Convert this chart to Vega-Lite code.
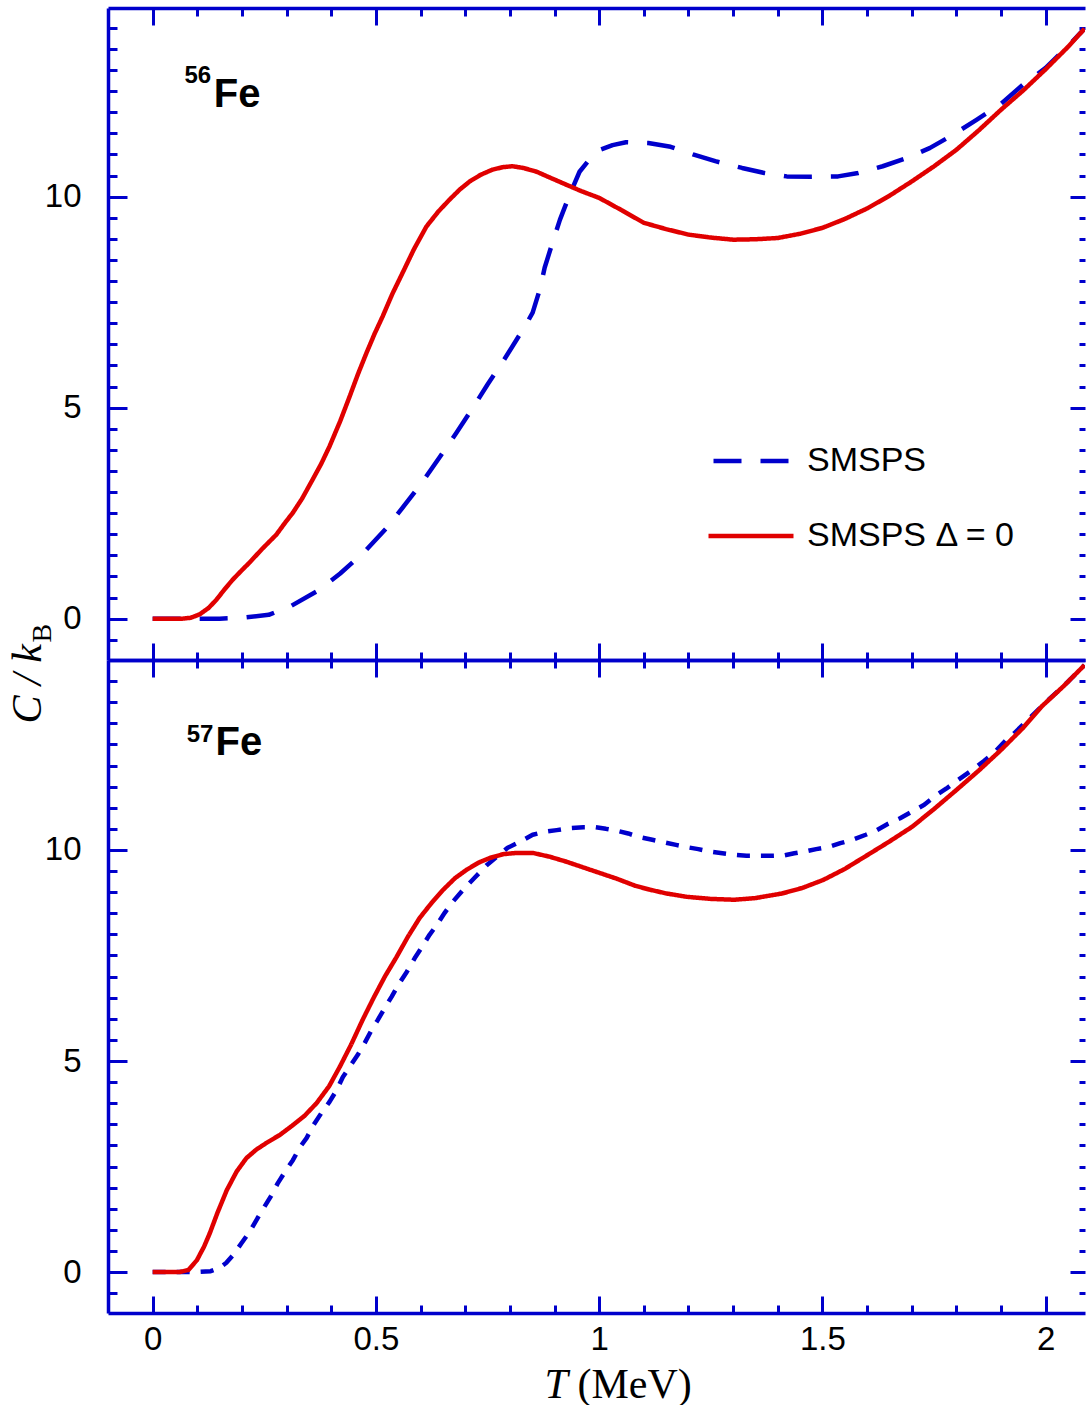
{
  "$schema": "https://vega.github.io/schema/vega-lite/v6.json",
  "padding": {"left": 6, "top": 6, "right": 0, "bottom": 0},
  "background": "white",
  "spacing": 0,
  "bounds": "flush",
  "config": {
    "view": {"stroke": null},
    "axis": {"grid": false, "domainColor": "#0000cc", "domainWidth": 3.5, "tickColor": "#0000cc", "tickWidth": 3, "labelFont": "Liberation Sans", "labelFontSize": 33, "labelColor": "#000000", "titleColor": "#000000", "titleFontWeight": "normal", "labelOverlap": false, "labelFlush": false, "labelBound": false}
  },
  "datasets": {
    "fe56": [
      {"T":0,"C":0,"series":"SMSPS"},{"T":0.1,"C":0,"series":"SMSPS"},{"T":0.15,"C":0,"series":"SMSPS"},{"T":0.2,"C":0.02,"series":"SMSPS"},{"T":0.26,"C":0.09,"series":"SMSPS"},{"T":0.31,"C":0.3,"series":"SMSPS"},{"T":0.37,"C":0.66,"series":"SMSPS"},{"T":0.42,"C":1.07,"series":"SMSPS"},{"T":0.475,"C":1.59,"series":"SMSPS"},{"T":0.525,"C":2.16,"series":"SMSPS"},{"T":0.565,"C":2.7,"series":"SMSPS"},{"T":0.605,"C":3.25,"series":"SMSPS"},{"T":0.645,"C":3.86,"series":"SMSPS"},{"T":0.68,"C":4.4,"series":"SMSPS"},{"T":0.715,"C":4.96,"series":"SMSPS"},{"T":0.75,"C":5.55,"series":"SMSPS"},{"T":0.785,"C":6.1,"series":"SMSPS"},{"T":0.815,"C":6.61,"series":"SMSPS"},{"T":0.835,"C":6.95,"series":"SMSPS"},{"T":0.851,"C":7.25,"series":"SMSPS"},{"T":0.867,"C":7.8,"series":"SMSPS"},{"T":0.878,"C":8.32,"series":"SMSPS"},{"T":0.894,"C":8.86,"series":"SMSPS"},{"T":0.912,"C":9.45,"series":"SMSPS"},{"T":0.934,"C":10.05,"series":"SMSPS"},{"T":0.956,"C":10.59,"series":"SMSPS"},{"T":0.978,"C":10.88,"series":"SMSPS"},{"T":1.0,"C":11.1,"series":"SMSPS"},{"T":1.03,"C":11.22,"series":"SMSPS"},{"T":1.06,"C":11.29,"series":"SMSPS"},{"T":1.11,"C":11.27,"series":"SMSPS"},{"T":1.16,"C":11.18,"series":"SMSPS"},{"T":1.21,"C":11.0,"series":"SMSPS"},{"T":1.26,"C":10.84,"series":"SMSPS"},{"T":1.32,"C":10.68,"series":"SMSPS"},{"T":1.37,"C":10.56,"series":"SMSPS"},{"T":1.42,"C":10.48,"series":"SMSPS"},{"T":1.475,"C":10.47,"series":"SMSPS"},{"T":1.535,"C":10.48,"series":"SMSPS"},{"T":1.58,"C":10.56,"series":"SMSPS"},{"T":1.635,"C":10.72,"series":"SMSPS"},{"T":1.69,"C":10.92,"series":"SMSPS"},{"T":1.74,"C":11.15,"series":"SMSPS"},{"T":1.79,"C":11.45,"series":"SMSPS"},{"T":1.845,"C":11.82,"series":"SMSPS"},{"T":1.9,"C":12.2,"series":"SMSPS"},{"T":1.95,"C":12.66,"series":"SMSPS"},{"T":2.0,"C":13.05,"series":"SMSPS"},{"T":2.05,"C":13.57,"series":"SMSPS"},{"T":2.087,"C":13.98,"series":"SMSPS"},
      {"T":0,"C":0,"series":"SMSPS Δ = 0"},{"T":0.067,"C":0,"series":"SMSPS Δ = 0"},{"T":0.085,"C":0.02,"series":"SMSPS Δ = 0"},{"T":0.105,"C":0.1,"series":"SMSPS Δ = 0"},{"T":0.125,"C":0.25,"series":"SMSPS Δ = 0"},{"T":0.143,"C":0.45,"series":"SMSPS Δ = 0"},{"T":0.16,"C":0.68,"series":"SMSPS Δ = 0"},{"T":0.179,"C":0.92,"series":"SMSPS Δ = 0"},{"T":0.2,"C":1.15,"series":"SMSPS Δ = 0"},{"T":0.217,"C":1.33,"series":"SMSPS Δ = 0"},{"T":0.245,"C":1.65,"series":"SMSPS Δ = 0"},{"T":0.277,"C":1.99,"series":"SMSPS Δ = 0"},{"T":0.295,"C":2.25,"series":"SMSPS Δ = 0"},{"T":0.314,"C":2.51,"series":"SMSPS Δ = 0"},{"T":0.335,"C":2.85,"series":"SMSPS Δ = 0"},{"T":0.358,"C":3.29,"series":"SMSPS Δ = 0"},{"T":0.378,"C":3.68,"series":"SMSPS Δ = 0"},{"T":0.396,"C":4.08,"series":"SMSPS Δ = 0"},{"T":0.42,"C":4.68,"series":"SMSPS Δ = 0"},{"T":0.441,"C":5.26,"series":"SMSPS Δ = 0"},{"T":0.46,"C":5.8,"series":"SMSPS Δ = 0"},{"T":0.479,"C":6.3,"series":"SMSPS Δ = 0"},{"T":0.497,"C":6.75,"series":"SMSPS Δ = 0"},{"T":0.515,"C":7.16,"series":"SMSPS Δ = 0"},{"T":0.537,"C":7.7,"series":"SMSPS Δ = 0"},{"T":0.56,"C":8.2,"series":"SMSPS Δ = 0"},{"T":0.585,"C":8.75,"series":"SMSPS Δ = 0"},{"T":0.613,"C":9.29,"series":"SMSPS Δ = 0"},{"T":0.64,"C":9.65,"series":"SMSPS Δ = 0"},{"T":0.665,"C":9.93,"series":"SMSPS Δ = 0"},{"T":0.688,"C":10.17,"series":"SMSPS Δ = 0"},{"T":0.71,"C":10.36,"series":"SMSPS Δ = 0"},{"T":0.735,"C":10.52,"series":"SMSPS Δ = 0"},{"T":0.761,"C":10.64,"series":"SMSPS Δ = 0"},{"T":0.785,"C":10.7,"series":"SMSPS Δ = 0"},{"T":0.806,"C":10.72,"series":"SMSPS Δ = 0"},{"T":0.83,"C":10.68,"series":"SMSPS Δ = 0"},{"T":0.86,"C":10.59,"series":"SMSPS Δ = 0"},{"T":0.89,"C":10.45,"series":"SMSPS Δ = 0"},{"T":0.927,"C":10.28,"series":"SMSPS Δ = 0"},{"T":0.96,"C":10.13,"series":"SMSPS Δ = 0"},{"T":1.0,"C":9.97,"series":"SMSPS Δ = 0"},{"T":1.05,"C":9.68,"series":"SMSPS Δ = 0"},{"T":1.1,"C":9.38,"series":"SMSPS Δ = 0"},{"T":1.15,"C":9.23,"series":"SMSPS Δ = 0"},{"T":1.2,"C":9.1,"series":"SMSPS Δ = 0"},{"T":1.25,"C":9.03,"series":"SMSPS Δ = 0"},{"T":1.3,"C":8.98,"series":"SMSPS Δ = 0"},{"T":1.35,"C":8.99,"series":"SMSPS Δ = 0"},{"T":1.4,"C":9.02,"series":"SMSPS Δ = 0"},{"T":1.45,"C":9.12,"series":"SMSPS Δ = 0"},{"T":1.5,"C":9.26,"series":"SMSPS Δ = 0"},{"T":1.55,"C":9.47,"series":"SMSPS Δ = 0"},{"T":1.6,"C":9.72,"series":"SMSPS Δ = 0"},{"T":1.65,"C":10.02,"series":"SMSPS Δ = 0"},{"T":1.7,"C":10.36,"series":"SMSPS Δ = 0"},{"T":1.75,"C":10.72,"series":"SMSPS Δ = 0"},{"T":1.8,"C":11.11,"series":"SMSPS Δ = 0"},{"T":1.85,"C":11.57,"series":"SMSPS Δ = 0"},{"T":1.9,"C":12.06,"series":"SMSPS Δ = 0"},{"T":1.95,"C":12.52,"series":"SMSPS Δ = 0"},{"T":2.0,"C":13.02,"series":"SMSPS Δ = 0"},{"T":2.05,"C":13.55,"series":"SMSPS Δ = 0"},{"T":2.087,"C":13.98,"series":"SMSPS Δ = 0"}
    ],
    "fe57": [
      {"T":0,"C":0,"series":"SMSPS"},{"T":0.1,"C":0,"series":"SMSPS"},{"T":0.13,"C":0.02,"series":"SMSPS"},{"T":0.15,"C":0.1,"series":"SMSPS"},{"T":0.165,"C":0.22,"series":"SMSPS"},{"T":0.18,"C":0.4,"series":"SMSPS"},{"T":0.2,"C":0.7,"series":"SMSPS"},{"T":0.217,"C":0.95,"series":"SMSPS"},{"T":0.235,"C":1.28,"series":"SMSPS"},{"T":0.25,"C":1.54,"series":"SMSPS"},{"T":0.265,"C":1.8,"series":"SMSPS"},{"T":0.28,"C":2.1,"series":"SMSPS"},{"T":0.296,"C":2.37,"series":"SMSPS"},{"T":0.314,"C":2.65,"series":"SMSPS"},{"T":0.33,"C":2.96,"series":"SMSPS"},{"T":0.345,"C":3.18,"series":"SMSPS"},{"T":0.36,"C":3.48,"series":"SMSPS"},{"T":0.378,"C":3.77,"series":"SMSPS"},{"T":0.396,"C":4.03,"series":"SMSPS"},{"T":0.412,"C":4.31,"series":"SMSPS"},{"T":0.426,"C":4.62,"series":"SMSPS"},{"T":0.441,"C":4.86,"series":"SMSPS"},{"T":0.459,"C":5.14,"series":"SMSPS"},{"T":0.475,"C":5.43,"series":"SMSPS"},{"T":0.49,"C":5.73,"series":"SMSPS"},{"T":0.504,"C":5.97,"series":"SMSPS"},{"T":0.52,"C":6.26,"series":"SMSPS"},{"T":0.535,"C":6.52,"series":"SMSPS"},{"T":0.553,"C":6.85,"series":"SMSPS"},{"T":0.569,"C":7.11,"series":"SMSPS"},{"T":0.587,"C":7.44,"series":"SMSPS"},{"T":0.602,"C":7.68,"series":"SMSPS"},{"T":0.62,"C":7.99,"series":"SMSPS"},{"T":0.636,"C":8.22,"series":"SMSPS"},{"T":0.654,"C":8.51,"series":"SMSPS"},{"T":0.672,"C":8.77,"series":"SMSPS"},{"T":0.699,"C":9.1,"series":"SMSPS"},{"T":0.721,"C":9.34,"series":"SMSPS"},{"T":0.748,"C":9.64,"series":"SMSPS"},{"T":0.77,"C":9.83,"series":"SMSPS"},{"T":0.795,"C":10.05,"series":"SMSPS"},{"T":0.822,"C":10.19,"series":"SMSPS"},{"T":0.851,"C":10.36,"series":"SMSPS"},{"T":0.878,"C":10.43,"series":"SMSPS"},{"T":0.905,"C":10.47,"series":"SMSPS"},{"T":0.935,"C":10.52,"series":"SMSPS"},{"T":0.965,"C":10.54,"series":"SMSPS"},{"T":0.99,"C":10.54,"series":"SMSPS"},{"T":1.015,"C":10.5,"series":"SMSPS"},{"T":1.042,"C":10.45,"series":"SMSPS"},{"T":1.065,"C":10.39,"series":"SMSPS"},{"T":1.088,"C":10.31,"series":"SMSPS"},{"T":1.119,"C":10.24,"series":"SMSPS"},{"T":1.146,"C":10.18,"series":"SMSPS"},{"T":1.172,"C":10.12,"series":"SMSPS"},{"T":1.2,"C":10.06,"series":"SMSPS"},{"T":1.222,"C":10.02,"series":"SMSPS"},{"T":1.249,"C":9.96,"series":"SMSPS"},{"T":1.276,"C":9.92,"series":"SMSPS"},{"T":1.306,"C":9.88,"series":"SMSPS"},{"T":1.33,"C":9.86,"series":"SMSPS"},{"T":1.38,"C":9.86,"series":"SMSPS"},{"T":1.414,"C":9.87,"series":"SMSPS"},{"T":1.437,"C":9.92,"series":"SMSPS"},{"T":1.46,"C":9.96,"series":"SMSPS"},{"T":1.486,"C":10.02,"series":"SMSPS"},{"T":1.517,"C":10.08,"series":"SMSPS"},{"T":1.54,"C":10.16,"series":"SMSPS"},{"T":1.567,"C":10.24,"series":"SMSPS"},{"T":1.597,"C":10.36,"series":"SMSPS"},{"T":1.62,"C":10.46,"series":"SMSPS"},{"T":1.647,"C":10.62,"series":"SMSPS"},{"T":1.674,"C":10.75,"series":"SMSPS"},{"T":1.701,"C":10.91,"series":"SMSPS"},{"T":1.728,"C":11.07,"series":"SMSPS"},{"T":1.754,"C":11.29,"series":"SMSPS"},{"T":1.777,"C":11.45,"series":"SMSPS"},{"T":1.804,"C":11.66,"series":"SMSPS"},{"T":1.831,"C":11.86,"series":"SMSPS"},{"T":1.861,"C":12.1,"series":"SMSPS"},{"T":1.884,"C":12.3,"series":"SMSPS"},{"T":1.911,"C":12.6,"series":"SMSPS"},{"T":1.93,"C":12.77,"series":"SMSPS"},{"T":1.96,"C":13.08,"series":"SMSPS"},{"T":2.0,"C":13.5,"series":"SMSPS"},{"T":2.04,"C":13.88,"series":"SMSPS"},{"T":2.087,"C":14.38,"series":"SMSPS"},
      {"T":0,"C":0,"series":"SMSPS Δ = 0"},{"T":0.06,"C":0,"series":"SMSPS Δ = 0"},{"T":0.08,"C":0.05,"series":"SMSPS Δ = 0"},{"T":0.099,"C":0.28,"series":"SMSPS Δ = 0"},{"T":0.115,"C":0.6,"series":"SMSPS Δ = 0"},{"T":0.128,"C":0.92,"series":"SMSPS Δ = 0"},{"T":0.145,"C":1.4,"series":"SMSPS Δ = 0"},{"T":0.166,"C":1.94,"series":"SMSPS Δ = 0"},{"T":0.188,"C":2.38,"series":"SMSPS Δ = 0"},{"T":0.21,"C":2.7,"series":"SMSPS Δ = 0"},{"T":0.232,"C":2.9,"series":"SMSPS Δ = 0"},{"T":0.255,"C":3.06,"series":"SMSPS Δ = 0"},{"T":0.285,"C":3.25,"series":"SMSPS Δ = 0"},{"T":0.314,"C":3.48,"series":"SMSPS Δ = 0"},{"T":0.34,"C":3.7,"series":"SMSPS Δ = 0"},{"T":0.367,"C":4.0,"series":"SMSPS Δ = 0"},{"T":0.395,"C":4.4,"series":"SMSPS Δ = 0"},{"T":0.419,"C":4.86,"series":"SMSPS Δ = 0"},{"T":0.445,"C":5.4,"series":"SMSPS Δ = 0"},{"T":0.47,"C":5.97,"series":"SMSPS Δ = 0"},{"T":0.495,"C":6.5,"series":"SMSPS Δ = 0"},{"T":0.52,"C":7.0,"series":"SMSPS Δ = 0"},{"T":0.546,"C":7.46,"series":"SMSPS Δ = 0"},{"T":0.572,"C":7.95,"series":"SMSPS Δ = 0"},{"T":0.598,"C":8.39,"series":"SMSPS Δ = 0"},{"T":0.625,"C":8.75,"series":"SMSPS Δ = 0"},{"T":0.65,"C":9.05,"series":"SMSPS Δ = 0"},{"T":0.677,"C":9.33,"series":"SMSPS Δ = 0"},{"T":0.703,"C":9.53,"series":"SMSPS Δ = 0"},{"T":0.73,"C":9.7,"series":"SMSPS Δ = 0"},{"T":0.755,"C":9.81,"series":"SMSPS Δ = 0"},{"T":0.785,"C":9.9,"series":"SMSPS Δ = 0"},{"T":0.815,"C":9.93,"series":"SMSPS Δ = 0"},{"T":0.851,"C":9.93,"series":"SMSPS Δ = 0"},{"T":0.889,"C":9.84,"series":"SMSPS Δ = 0"},{"T":0.927,"C":9.72,"series":"SMSPS Δ = 0"},{"T":0.98,"C":9.53,"series":"SMSPS Δ = 0"},{"T":1.039,"C":9.32,"series":"SMSPS Δ = 0"},{"T":1.081,"C":9.15,"series":"SMSPS Δ = 0"},{"T":1.113,"C":9.06,"series":"SMSPS Δ = 0"},{"T":1.15,"C":8.97,"series":"SMSPS Δ = 0"},{"T":1.196,"C":8.89,"series":"SMSPS Δ = 0"},{"T":1.25,"C":8.84,"series":"SMSPS Δ = 0"},{"T":1.303,"C":8.82,"series":"SMSPS Δ = 0"},{"T":1.35,"C":8.86,"series":"SMSPS Δ = 0"},{"T":1.41,"C":8.97,"series":"SMSPS Δ = 0"},{"T":1.455,"C":9.1,"series":"SMSPS Δ = 0"},{"T":1.502,"C":9.29,"series":"SMSPS Δ = 0"},{"T":1.55,"C":9.55,"series":"SMSPS Δ = 0"},{"T":1.601,"C":9.88,"series":"SMSPS Δ = 0"},{"T":1.65,"C":10.2,"series":"SMSPS Δ = 0"},{"T":1.701,"C":10.55,"series":"SMSPS Δ = 0"},{"T":1.75,"C":10.97,"series":"SMSPS Δ = 0"},{"T":1.8,"C":11.42,"series":"SMSPS Δ = 0"},{"T":1.85,"C":11.88,"series":"SMSPS Δ = 0"},{"T":1.9,"C":12.37,"series":"SMSPS Δ = 0"},{"T":1.95,"C":12.9,"series":"SMSPS Δ = 0"},{"T":1.991,"C":13.4,"series":"SMSPS Δ = 0"},{"T":2.04,"C":13.88,"series":"SMSPS Δ = 0"},{"T":2.087,"C":14.38,"series":"SMSPS Δ = 0"}
    ]
  },
  "resolve": {"scale": {"color": "independent", "strokeDash": "independent"}, "legend": {"color": "independent", "strokeDash": "independent"}},
  "vconcat": [
    {
      "width": 977,
      "height": 652,
      "resolve": {"axis": {"x": "independent", "y": "independent"}},
      "layer": [
        {
          "data": {"name": "fe56"},
          "mark": {"type": "line", "strokeWidth": 4.5, "clip": true, "strokeCap": "butt", "strokeJoin": "round"},
          "encoding": {
            "x": {"field": "T", "type": "quantitative", "scale": {"domain": [-0.1, 2.088], "nice": false, "zero": false},
              "axis": {"orient": "bottom", "values": [0,0.1,0.2,0.3,0.4,0.5,0.6,0.7,0.8,0.9,1,1.1,1.2,1.3,1.4,1.5,1.6,1.7,1.8,1.9,2], "tickSize": {"condition": {"test": "abs(datum.value*2-round(datum.value*2))<0.001", "value": -17}, "value": -8}, "labels": false, "title": null}},
            "y": {"field": "C", "type": "quantitative", "scale": {"domain": [-0.98, 14.47], "nice": false, "zero": false},
              "axis": {"orient": "left", "values": [-0.5,0,0.5,1,1.5,2,2.5,3,3.5,4,4.5,5,5.5,6,6.5,7,7.5,8,8.5,9,9.5,10,10.5,11,11.5,12,12.5,13,13.5,14], "tickSize": {"condition": {"test": "datum.value % 5 === 0", "value": -19}, "value": -9}, "labelExpr": "datum.value % 5 === 0 ? format(datum.value, '~g') : ''", "labelPadding": 46, "labelAlign": "right", "labelBaseline": "middle",
                "title": "B", "titleFont": "Liberation Serif", "titleFontSize": 28, "titleFontStyle": "normal", "titleAngle": 270, "titleAlign": "left", "titleBaseline": "alphabetic", "titleX": -58, "titleY": 634}},
            "color": {"field": "series", "type": "nominal", "scale": {"domain": ["SMSPS", "SMSPS Δ = 0"], "range": ["#0000cc", "#e00000"]},
              "legend": {"orient": "none", "legendX": 598, "legendY": 408, "title": null, "symbolType": "stroke", "symbolSize": 7225, "symbolStrokeWidth": 4.5, "symbolDashOffset": -5, "labelFont": "Liberation Sans", "labelFontSize": 34, "labelColor": "#000000", "labelOffset": 11, "rowPadding": 13, "padding": 0, "labelLimit": 0}},
            "strokeDash": {"field": "series", "type": "nominal", "scale": {"domain": ["SMSPS", "SMSPS Δ = 0"], "range": [[28, 19], [1, 0]]},
              "legend": {"orient": "none", "legendX": 598, "legendY": 408, "title": null, "symbolType": "stroke", "symbolSize": 7225, "symbolStrokeWidth": 4.5, "symbolDashOffset": -5, "labelFont": "Liberation Sans", "labelFontSize": 34, "labelColor": "#000000", "labelOffset": 11, "rowPadding": 13, "padding": 0, "labelLimit": 0}}
          }
        },
        {
          "data": {"values": [{"label": "Fe"}]},
          "mark": {"type": "text", "font": "Liberation Sans", "fontWeight": "bold", "fontSize": 40, "align": "left", "baseline": "alphabetic", "color": "#000000"},
          "encoding": {
            "x": {"datum": 0.137, "type": "quantitative", "scale": {"domain": [-0.1, 2.088], "nice": false, "zero": false},
              "axis": {"orient": "top", "values": [0,0.1,0.2,0.3,0.4,0.5,0.6,0.7,0.8,0.9,1,1.1,1.2,1.3,1.4,1.5,1.6,1.7,1.8,1.9,2], "tickSize": {"condition": {"test": "abs(datum.value*2-round(datum.value*2))<0.001", "value": -17}, "value": -8}, "labels": false, "title": null}},
            "y": {"datum": 12.13, "type": "quantitative", "scale": {"domain": [-0.98, 14.47], "nice": false, "zero": false},
              "axis": {"orient": "right", "domain": false, "values": [-0.5,0,0.5,1,1.5,2,2.5,3,3.5,4,4.5,5,5.5,6,6.5,7,7.5,8,8.5,9,9.5,10,10.5,11,11.5,12,12.5,13,13.5,14], "tickSize": {"condition": {"test": "datum.value % 5 === 0", "value": -15}, "value": -6}, "labels": false, "title": null}},
            "text": {"field": "label"}
          }
        },
        {
          "data": {"values": [{"label": "56"}]},
          "mark": {"type": "text", "font": "Liberation Sans", "fontWeight": "bold", "fontSize": 24, "align": "right", "baseline": "alphabetic", "color": "#000000"},
          "encoding": {
            "x": {"datum": 0.131, "type": "quantitative", "axis": null},
            "y": {"datum": 12.7, "type": "quantitative", "axis": null},
            "text": {"field": "label"}
          }
        }
      ]
    },
    {
      "width": 977,
      "height": 653,
      "resolve": {"axis": {"x": "independent", "y": "independent"}},
      "layer": [
        {
          "data": {"name": "fe57"},
          "mark": {"type": "line", "strokeWidth": 4.5, "clip": true, "strokeCap": "butt", "strokeJoin": "round"},
          "encoding": {
            "x": {"field": "T", "type": "quantitative", "scale": {"domain": [-0.1, 2.088], "nice": false, "zero": false},
              "axis": {"orient": "bottom", "values": [0,0.1,0.2,0.3,0.4,0.5,0.6,0.7,0.8,0.9,1,1.1,1.2,1.3,1.4,1.5,1.6,1.7,1.8,1.9,2], "tickSize": {"condition": {"test": "abs(datum.value*2-round(datum.value*2))<0.001", "value": -17}, "value": -8}, "labelExpr": "abs(datum.value*2-round(datum.value*2))<0.001 ? format(datum.value, '~g') : ''", "labelPadding": 27, "labelAlign": "center", "labelBaseline": "top",
                "title": "(MeV)", "titleFont": "Liberation Serif", "titleFontSize": 42, "titleFontStyle": "normal", "titleAlign": "left", "titleBaseline": "alphabetic", "titleX": 469, "titleY": 84}},
            "y": {"field": "C", "type": "quantitative", "scale": {"domain": [-0.97, 14.5], "nice": false, "zero": false},
              "axis": {"orient": "left", "values": [-0.5,0,0.5,1,1.5,2,2.5,3,3.5,4,4.5,5,5.5,6,6.5,7,7.5,8,8.5,9,9.5,10,10.5,11,11.5,12,12.5,13,13.5,14], "tickSize": {"condition": {"test": "datum.value % 5 === 0", "value": -19}, "value": -9}, "labelExpr": "datum.value % 5 === 0 ? format(datum.value, '~g') : ''", "labelPadding": 46, "labelAlign": "right", "labelBaseline": "middle",
                "title": "C / k", "titleFont": "Liberation Serif", "titleFontSize": 42, "titleFontStyle": "italic", "titleAngle": 270, "titleAlign": "left", "titleBaseline": "alphabetic", "titleX": -68, "titleY": 63}},
            "color": {"field": "series", "type": "nominal", "scale": {"domain": ["SMSPS", "SMSPS Δ = 0"], "range": ["#0000cc", "#e00000"]}, "legend": null},
            "strokeDash": {"field": "series", "type": "nominal", "scale": {"domain": ["SMSPS", "SMSPS Δ = 0"], "range": [[13, 11], [1, 0]]}, "legend": null}
          }
        },
        {
          "data": {"values": [{"label": "Fe"}]},
          "mark": {"type": "text", "font": "Liberation Sans", "fontWeight": "bold", "fontSize": 40, "align": "left", "baseline": "alphabetic", "color": "#000000"},
          "encoding": {
            "x": {"datum": 0.141, "type": "quantitative", "scale": {"domain": [-0.1, 2.088], "nice": false, "zero": false},
              "axis": {"orient": "top", "values": [0,0.1,0.2,0.3,0.4,0.5,0.6,0.7,0.8,0.9,1,1.1,1.2,1.3,1.4,1.5,1.6,1.7,1.8,1.9,2], "tickSize": {"condition": {"test": "abs(datum.value*2-round(datum.value*2))<0.001", "value": -17}, "value": -8}, "labels": false,
                "title": "T", "titleFont": "Liberation Serif", "titleFontSize": 42, "titleFontStyle": "italic", "titleAlign": "left", "titleBaseline": "alphabetic", "titleX": 436, "titleY": 737}},
            "y": {"datum": 12.25, "type": "quantitative", "scale": {"domain": [-0.97, 14.5], "nice": false, "zero": false},
              "axis": {"orient": "right", "domain": false, "values": [-0.5,0,0.5,1,1.5,2,2.5,3,3.5,4,4.5,5,5.5,6,6.5,7,7.5,8,8.5,9,9.5,10,10.5,11,11.5,12,12.5,13,13.5,14], "tickSize": {"condition": {"test": "datum.value % 5 === 0", "value": -15}, "value": -6}, "labels": false, "title": null}},
            "text": {"field": "label"}
          }
        },
        {
          "data": {"values": [{"label": "57"}]},
          "mark": {"type": "text", "font": "Liberation Sans", "fontWeight": "bold", "fontSize": 24, "align": "right", "baseline": "alphabetic", "color": "#000000"},
          "encoding": {
            "x": {"datum": 0.136, "type": "quantitative", "axis": null},
            "y": {"datum": 12.56, "type": "quantitative", "axis": null},
            "text": {"field": "label"}
          }
        }
      ]
    }
  ]
}
